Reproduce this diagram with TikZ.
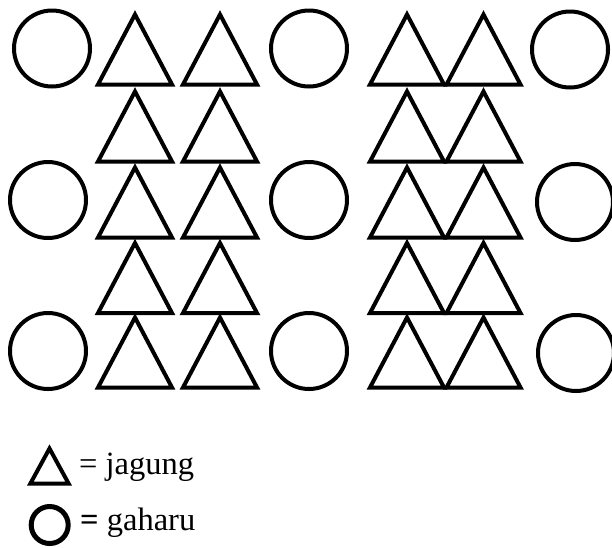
\documentclass[tikz,border=0pt]{standalone}
\usepackage{fontspec}
\setmainfont{Liberation Serif}
\begin{document}
\begin{tikzpicture}[x=1pt,y=-1pt,
  outl/.style={draw=black,line width=4pt,line join=miter},
  legtri/.style={draw=black,line width=4pt,line join=miter},
  legcirc/.style={draw=black,line width=5pt},
  legtext/.style={anchor=base west,inner sep=0pt,font=\fontsize{32.5}{38}\selectfont}]
\useasboundingbox (0,0) rectangle (612,547);
% circles
\foreach \cx/\cy in {52/48.5,48/200,48/351,309/48.5,309/200,309/351,570/49.5,575/202,576/353}
  \draw[outl] (\cx,\cy) circle[radius=38];
% triangles
\foreach \tx in {135,220,407,483.5}
  \foreach \by in {84.5,161.5,237.5,313,387.5}
    \draw[outl] (\tx-37,\by) -- (\tx+37,\by) -- (\tx,\by-70) -- cycle;
% legend
\draw[legtri] (30.3,483.7) -- (68.7,483.7) -- (49.5,448.5) -- cycle;
\draw[legcirc] (49.7,525) circle[radius=18.5];
\node[legtext] (lj) at (79,474) {= jagung};
\node[legtext] (lg) at (80,530) {\textbf{=} gaharu};
\end{tikzpicture}
\end{document}
